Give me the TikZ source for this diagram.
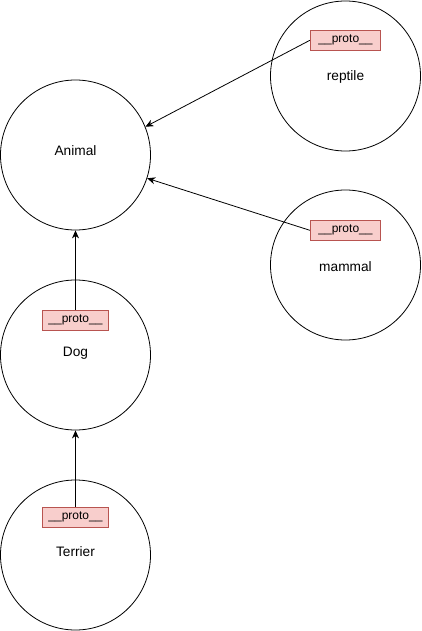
\documentclass[tikz,border=0pt]{standalone}
\usepackage{fontspec}
\setmainfont{Liberation Sans}
\usetikzlibrary{arrows.meta}
\definecolor{protofill}{HTML}{F8CECC}
\definecolor{protodraw}{HTML}{B85450}
\begin{document}
\begin{tikzpicture}[x=1pt,y=1pt,
  objcircle/.style={circle,draw=black,line width=0.8pt,minimum size=150pt,inner sep=0pt},
  protobox/.style={rectangle,draw=protodraw,fill=protofill,line width=0.8pt,minimum height=20pt,inner sep=0pt,font=\fontsize{12}{14}\selectfont},
  namelabel/.style={anchor=base,inner sep=0pt,font=\fontsize{13.7}{16}\selectfont},
  protoarrow/.style={line width=0.8pt,-{Stealth[length=8pt,width=7pt,inset=2.5pt]}}]
\useasboundingbox (0,0) rectangle (421,-631);
\node[objcircle] (animal) at (75.5,-155) {};
\node[objcircle] (dog) at (75.5,-355) {};
\node[objcircle] (terrier) at (75.5,-555) {};
\node[objcircle] (reptile) at (345.5,-76) {};
\node[objcircle] (mammal) at (345.5,-265) {};
\node[namelabel] (animalt) at (75.5,-156) {Animal};
\node[namelabel] (dogt) at (75.5,-356) {Dog};
\node[namelabel] (terriert) at (75.5,-556) {Terrier};
\node[namelabel] (reptilet) at (345.5,-81) {reptile};
\node[namelabel] (mammalt) at (345.5,-271) {mammal};
\node[protobox,minimum width=70.5pt] (reptilep) at (345.5,-40.3) {\_\_proto\_\_};
\node[protobox,minimum width=70.5pt] (mammalp) at (345.5,-230.3) {\_\_proto\_\_};
\node[protobox,minimum width=65.6pt] (dogp) at (75.5,-320.3) {\_\_proto\_\_};
\node[protobox,minimum width=65.6pt] (terrierp) at (75.5,-517.3) {\_\_proto\_\_};
\draw[protoarrow] (reptilep.west) -- (animal.22);
\draw[protoarrow] (mammalp.west) -- (animal.-18);
\draw[protoarrow] (dogp.north) -- (animal.south);
\draw[protoarrow] (terrierp.north) -- (dog.south);
\end{tikzpicture}
\end{document}
